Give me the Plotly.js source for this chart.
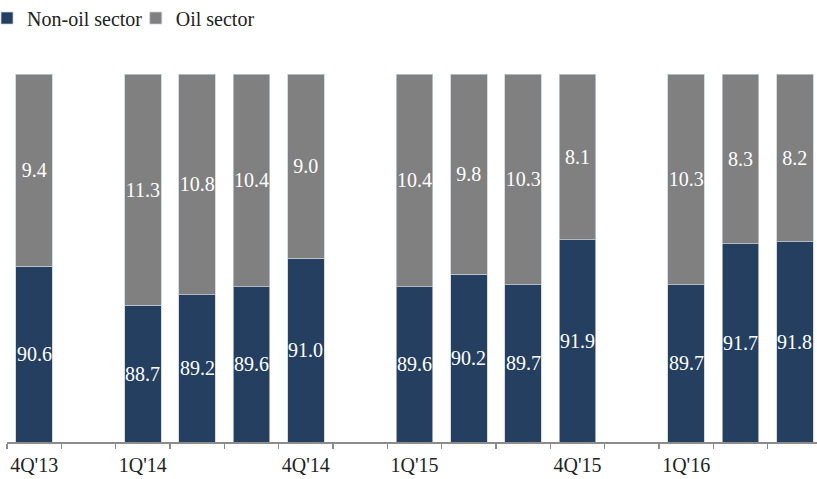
<!DOCTYPE html>
<html>
<head>
<meta charset="utf-8">
<script src="https://cdn.plot.ly/plotly-3.0.1.min.js"></script>
<style>
  html, body { margin: 0; padding: 0; overflow: hidden; background: #fff; }
  #chart { width: 830px; height: 479px; }
</style>
</head>
<body>
<div id="chart"></div>
<script>
// Quarterly slots; the "gap" slots are empty spacers between years
const quarters = ["4Q'13", "gap1", "1Q'14", "2Q'14", "3Q'14", "4Q'14", "gap2",
                  "1Q'15", "2Q'15", "3Q'15", "4Q'15", "gap3", "1Q'16", "2Q'16", "3Q'16"];
const tickLabels = ["4Q'13", "", "1Q'14", "", "", "4Q'14", "",
                    "1Q'15", "", "", "4Q'15", "", "1Q'16", "", ""];
const nonOilShare = [90.6, null, 88.7, 89.2, 89.6, 91.0, null, 89.6, 90.2, 89.7, 91.9, null, 89.7, 91.7, 91.8];
const oilShare    = [9.4,  null, 11.3, 10.8, 10.4, 9.0,  null, 10.4, 9.8,  10.3, 8.1,  null, 10.3, 8.3,  8.2];

// The value axis is cut at 82% so the quarter-to-quarter shifts are visible
const Y_RANGE = [82, 100];

const FONT = "Liberation Serif, DejaVu Serif, serif";
const NAVY = "#253F60";
const GREY = "#808080";
const EDGE = "rgba(200,206,216,0.9)";

function barTrace(name, values, color, showText, legendId) {
  return {
    type: "bar",
    name: name,
    legend: legendId,
    x: quarters,
    y: values,
    marker: { color: color, line: { color: EDGE, width: 0.8 } },
    texttemplate: showText ? "%{y:.1f}" : "",
    textposition: showText ? "inside" : "none",
    insidetextanchor: "middle",
    textangle: 0,
    constraintext: "none",
    textfont: { family: FONT, size: 20, color: "#ffffff" },
    hoverinfo: "skip"
  };
}

const data = [
  barTrace("Non-oil sector", nonOilShare, NAVY, false, "legend"),
  barTrace("Oil sector", oilShare, GREY, true, "legend2")
];

// Non-oil labels sit in the middle of the visible part of each bar
const nonOilLabels = [];
quarters.forEach((q, i) => {
  const v = nonOilShare[i];
  if (v === null) return;
  nonOilLabels.push({
    x: q,
    y: (Y_RANGE[0] + v) / 2,
    xref: "x",
    yref: "y",
    text: v.toFixed(1),
    showarrow: false,
    font: { family: FONT, size: 20, color: "#ffffff" }
  });
});

function legendBox(x) {
  return {
    orientation: "h",
    x: x,
    xanchor: "left",
    y: 1.205,
    yanchor: "top",
    font: { family: FONT, size: 20, color: "#222222" },
    itemwidth: 30,
    bgcolor: "rgba(0,0,0,0)"
  };
}

const layout = {
  width: 830,
  height: 479,
  margin: { l: 7, r: 8, t: 74, b: 37, autoexpand: false },
  barmode: "stack",
  bargap: 0.33,
  paper_bgcolor: "#ffffff",
  plot_bgcolor: "#ffffff",
  font: { family: FONT, size: 20, color: "#222222" },
  showlegend: true,
  legend: legendBox(-0.0245),
  legend2: legendBox(0.158),
  annotations: nonOilLabels,
  xaxis: {
    type: "category",
    categoryorder: "array",
    categoryarray: quarters,
    tickmode: "array",
    tickvals: quarters,
    ticktext: tickLabels,
    tickson: "boundaries",
    tickangle: 0,
    automargin: false,
    ticks: "outside",
    ticklen: 5,
    tickwidth: 1.5,
    tickcolor: "#8c8c8c",
    ticklabelstandoff: 4,
    showline: true,
    linecolor: "#8c8c8c",
    linewidth: 1.5,
    showgrid: false,
    zeroline: false,
    tickfont: { family: FONT, size: 20, color: "#222222" },
    fixedrange: true
  },
  yaxis: {
    range: Y_RANGE,
    showticklabels: false,
    showgrid: false,
    zeroline: false,
    showline: false,
    ticks: "",
    automargin: false,
    fixedrange: true
  }
};

Plotly.newPlot("chart", data, layout, { displayModeBar: false, staticPlot: true, responsive: false });
</script>
</body>
</html>
